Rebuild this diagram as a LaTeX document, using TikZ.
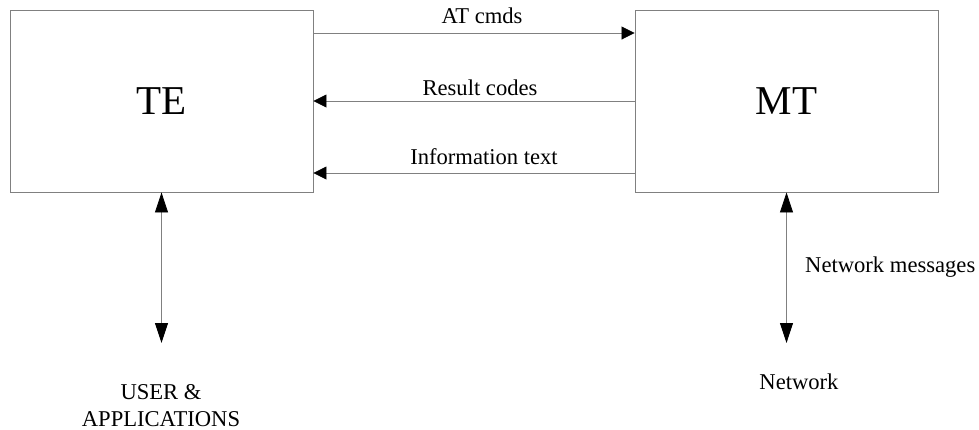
\documentclass[tikz,border=0pt]{standalone}
\usepackage{fontspec}
\setmainfont{Liberation Serif}
\usetikzlibrary{arrows.meta}
\definecolor{linegray}{RGB}{128,128,128}
\tikzset{
  box/.style={draw=linegray, line width=0.9pt, minimum width=303pt, minimum height=182pt, inner sep=0pt, font=\fontsize{41}{48}\selectfont},
  harr/.style={draw=linegray, line width=0.8pt, -{Triangle[length=13pt,width=13pt,color=black,fill=black]}},
  varr/.style={draw=linegray, line width=0.8pt, {Triangle[length=20pt,width=13pt,color=black,fill=black]}-{Triangle[length=20pt,width=13pt,color=black,fill=black]}},
  lbl/.style={font=\fontsize{22.6}{27}\selectfont, inner sep=0pt, anchor=base}
}
\begin{document}
\begin{tikzpicture}[x=1pt,y=-1pt]
\useasboundingbox (0,0) rectangle (979,429);
\node[box] (TE) at (161.5,101) {TE};
\node[box] (MT) at (786.5,101) {MT};
% horizontal connectors
\coordinate (te1) at (TE.east |- 0,33);
\coordinate (mt1) at (MT.west |- 0,33);
\coordinate (te2) at (TE.east |- 0,101);
\coordinate (mt2) at (MT.west |- 0,101);
\coordinate (te3) at (TE.east |- 0,173);
\coordinate (mt3) at (MT.west |- 0,173);
\draw[harr] (te1) -- (mt1);
\draw[harr] (mt2) -- (te2);
\draw[harr] (mt3) -- (te3);
\node[lbl] (l1) at (482,23) {AT cmds};
\node[lbl] (l2) at (480,95) {Result codes};
\node[lbl] (l3) at (484,164) {Information text};
% vertical connectors
\coordinate (user) at (TE.south |- 0,343);
\coordinate (net) at (MT.south |- 0,343);
\draw[varr] (TE.south) -- (user);
\draw[varr] (MT.south) -- (net);
\node[lbl, anchor=base west] (l4) at (805,272) {Network messages};
\node[lbl] (l5) at (799,389) {Network};
\node[lbl] (l6a) at (161,399) {USER \&};
\node[lbl] (l6b) at (161,426) {APPLICATIONS};
\end{tikzpicture}
\end{document}
